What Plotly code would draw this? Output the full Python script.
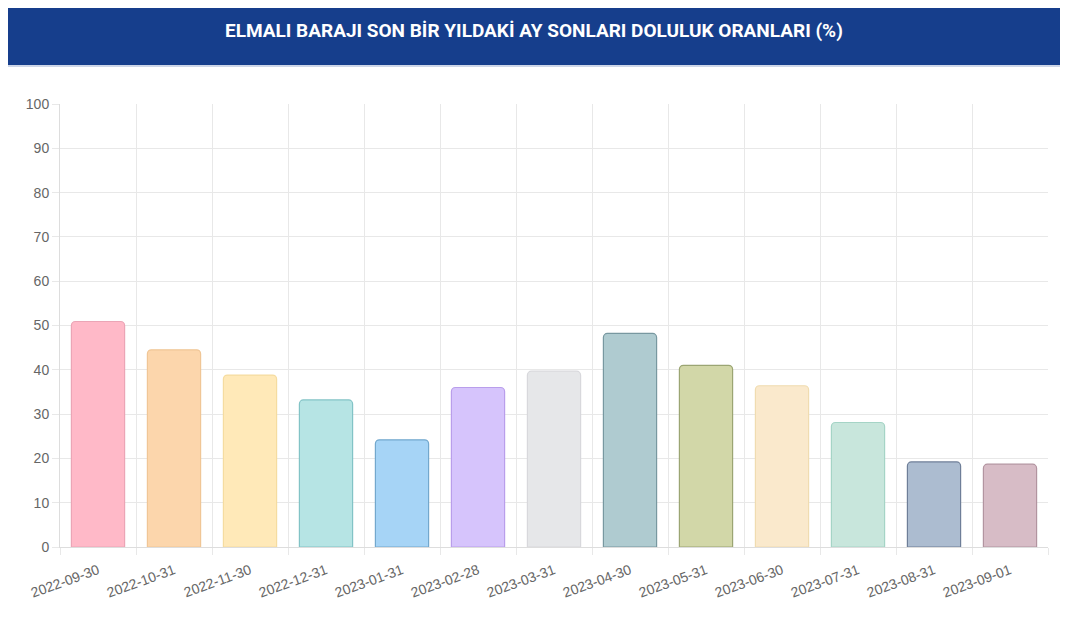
import plotly.graph_objects as go

# month-end fill ratios of Elmalı dam (%)
dates = ["2022-09-30", "2022-10-31", "2022-11-30", "2022-12-31", "2023-01-31",
         "2023-02-28", "2023-03-31", "2023-04-30", "2023-05-31", "2023-06-30",
         "2023-07-31", "2023-08-31", "2023-09-01"]
fill_pct = [50.9, 44.5, 38.8, 33.2, 24.2, 36.0, 39.7, 48.2, 41.0, 36.4, 28.1, 19.2, 18.7]

bar_colors = ["rgb(255,185,200)", "rgb(252,214,172)", "rgb(255,233,184)", "rgb(182,228,228)",
              "rgb(166,212,246)", "rgb(214,196,252)", "rgb(230,231,233)", "rgb(175,203,208)",
              "rgb(210,215,168)", "rgb(250,233,204)", "rgb(200,230,220)", "rgb(172,188,208)",
              "rgb(215,188,198)"]
border_colors = ["rgb(235,165,182)", "rgb(240,198,150)", "rgb(245,220,160)", "rgb(130,195,198)",
                 "rgb(115,168,205)", "rgb(185,158,235)", "rgb(216,216,220)", "rgb(120,152,160)",
                 "rgb(155,165,115)", "rgb(240,220,176)", "rgb(165,212,198)", "rgb(110,126,152)",
                 "rgb(178,148,160)"]

title = "ELMALI BARAJI SON BİR YILDAKİ AY SONLARI DOLULUK ORANLARI (%)"

# page has an 8px body margin, so the figure is sized/placed around it
W, H = 1052, 611
L, R, B = 52, 12, 72
pw = W - L - R          # plot width in px
ph = H - B              # paper height in px (t=0)

def py(fig_y):
    # figure pixel y (from top) -> paper y
    return (ph - fig_y) / ph

fig = go.Figure(go.Bar(
    x=dates,
    y=fill_pct,
    width=0.7,
    marker=dict(color=bar_colors, line=dict(color=border_colors, width=1.2), cornerradius=4),
    hovertemplate="%{x}: %{y}<extra></extra>",
))

fig.update_layout(
    width=W, height=H,
    margin=dict(l=L, r=R, t=0, b=B, pad=0, autoexpand=False),
    paper_bgcolor="white", plot_bgcolor="white",
    font=dict(family="Liberation Sans, Arial, sans-serif", color="#666666", size=12),
    showlegend=False,
    shapes=[dict(type="rect", xref="paper", yref="paper",
                 x0=-L / pw, x1=1 + R / pw, y0=py(57), y1=1.0,
                 fillcolor="rgb(22,62,140)", line_width=0, layer="below"),
            dict(type="rect", xref="paper", yref="paper",
                 x0=-L / pw, x1=1 + R / pw, y0=py(59), y1=py(57),
                 fillcolor="rgb(205,214,232)", line_width=0, layer="below")],
    annotations=[dict(text="<b>" + title + "</b>", xref="paper", yref="paper",
                      x=(526 - L) / pw, y=py(22), xanchor="center", yanchor="middle",
                      showarrow=False,
                      font=dict(family="Roboto, sans-serif", size=19, color="white"))],
)
fig.update_xaxes(
    type="category",
    tickson="boundaries",
    automargin=False,
    showgrid=True, gridcolor="#e8e8e8", gridwidth=1,
    ticks="outside", ticklen=7, tickcolor="#e8e8e8",
    tickangle=-20, ticklabelstandoff=9,
    tickfont=dict(size=14, color="#666666"),
    showline=True, linecolor="#dddddd", linewidth=1,
)
fig.update_yaxes(
    domain=[0, py(96)],
    automargin=False,
    range=[0, 100], dtick=10,
    showgrid=True, gridcolor="#e8e8e8", gridwidth=1,
    ticks="outside", ticklen=7, tickcolor="#e8e8e8",
    tickfont=dict(size=14, color="#666666"),
    showline=True, linecolor="#dddddd", linewidth=1,
    zeroline=False,
)

fig.write_html("out.html")
